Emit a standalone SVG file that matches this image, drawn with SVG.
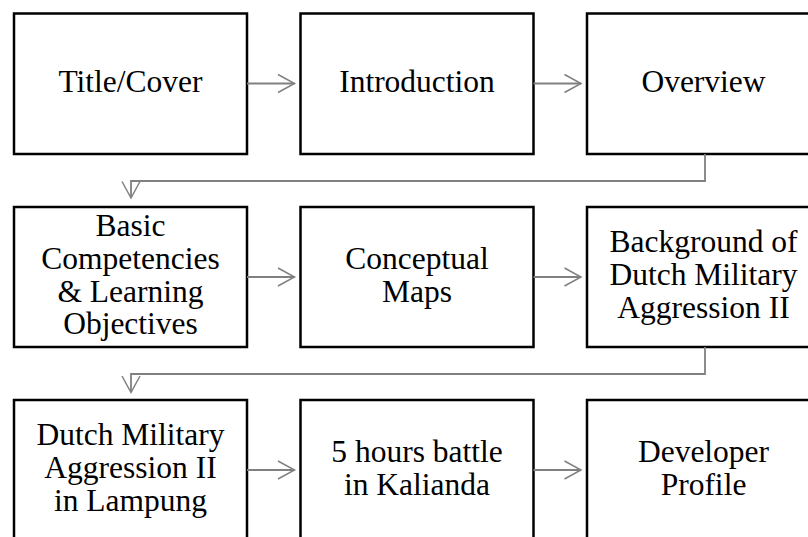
<svg xmlns="http://www.w3.org/2000/svg" width="808" height="537" viewBox="0 0 808 537">
<style>
.box{fill:#fff;stroke:#000;stroke-width:2.5}
.t{font-size:31.5px;fill:#000;text-anchor:middle}
.c{fill:none;stroke:#808080;stroke-width:1.8}
.h{fill:none;stroke:#808080;stroke-width:1.5}
</style>
<rect width="808" height="537" fill="#fff"/>
<g font-family="Liberation Serif, Tinos, Times New Roman, DejaVu Serif, serif">
<g id="n1"><rect class="box" x="14" y="13.5" width="233" height="140.5"/><text class="t" x="130.5" y="92">Title/Cover</text></g>
<g id="n2"><rect class="box" x="300.5" y="13.5" width="233" height="140.5"/><text class="t" x="417" y="92">Introduction</text></g>
<g id="n3"><rect class="box" x="587" y="13.5" width="233" height="140.5"/><text class="t" x="703.5" y="92">Overview</text></g>
<g id="n4"><rect class="box" x="14" y="207" width="233" height="140"/><text class="t" x="130.5"><tspan x="130.5" y="235.5">Basic</tspan><tspan x="130.5" y="268.5">Competencies</tspan><tspan x="130.5" y="301.5">&amp; Learning</tspan><tspan x="130.5" y="334">Objectives</tspan></text></g>
<g id="n5"><rect class="box" x="300.5" y="207" width="233" height="140"/><text class="t"><tspan x="417" y="269">Conceptual</tspan><tspan x="417" y="302">Maps</tspan></text></g>
<g id="n6"><rect class="box" x="587" y="207" width="233" height="140"/><text class="t"><tspan x="703.5" y="252">Background of</tspan><tspan x="703.5" y="285">Dutch Military</tspan><tspan x="703.5" y="318">Aggression II</tspan></text></g>
<g id="n7"><rect class="box" x="14" y="400" width="233" height="145"/><text class="t"><tspan x="130.5" y="445">Dutch Military</tspan><tspan x="130.5" y="478">Aggression II</tspan><tspan x="130.5" y="511">in Lampung</tspan></text></g>
<g id="n8"><rect class="box" x="300.5" y="400" width="233" height="145"/><text class="t"><tspan x="417" y="462">5 hours battle</tspan><tspan x="417" y="495">in Kalianda</tspan></text></g>
<g id="n9"><rect class="box" x="587" y="400" width="233" height="145"/><text class="t"><tspan x="703.5" y="462">Developer</tspan><tspan x="703.5" y="495">Profile</tspan></text></g>
</g>
<g id="connectors">
<path class="c" d="M247 83.5H294.5"/><path class="h" d="M278 74.5L294.5 83.5L278 92.5"/>
<path class="c" d="M533.5 83.5H581"/><path class="h" d="M564.5 74.5L581 83.5L564.5 92.5"/>
<path class="c" d="M705 154V181H131V197"/><path class="h" d="M122 181.5L131 198L140 181.5"/>
<path class="c" d="M247 277H294.5"/><path class="h" d="M278 268L294.5 277L278 286"/>
<path class="c" d="M533.5 277H581"/><path class="h" d="M564.5 268L581 277L564.5 286"/>
<path class="c" d="M705 347V374H131V392"/><path class="h" d="M122 376L131 392.5L140 376"/>
<path class="c" d="M247 470H294.5"/><path class="h" d="M278 461L294.5 470L278 479"/>
<path class="c" d="M533.5 470H581"/><path class="h" d="M564.5 461L581 470L564.5 479"/>
</g>
</svg>
